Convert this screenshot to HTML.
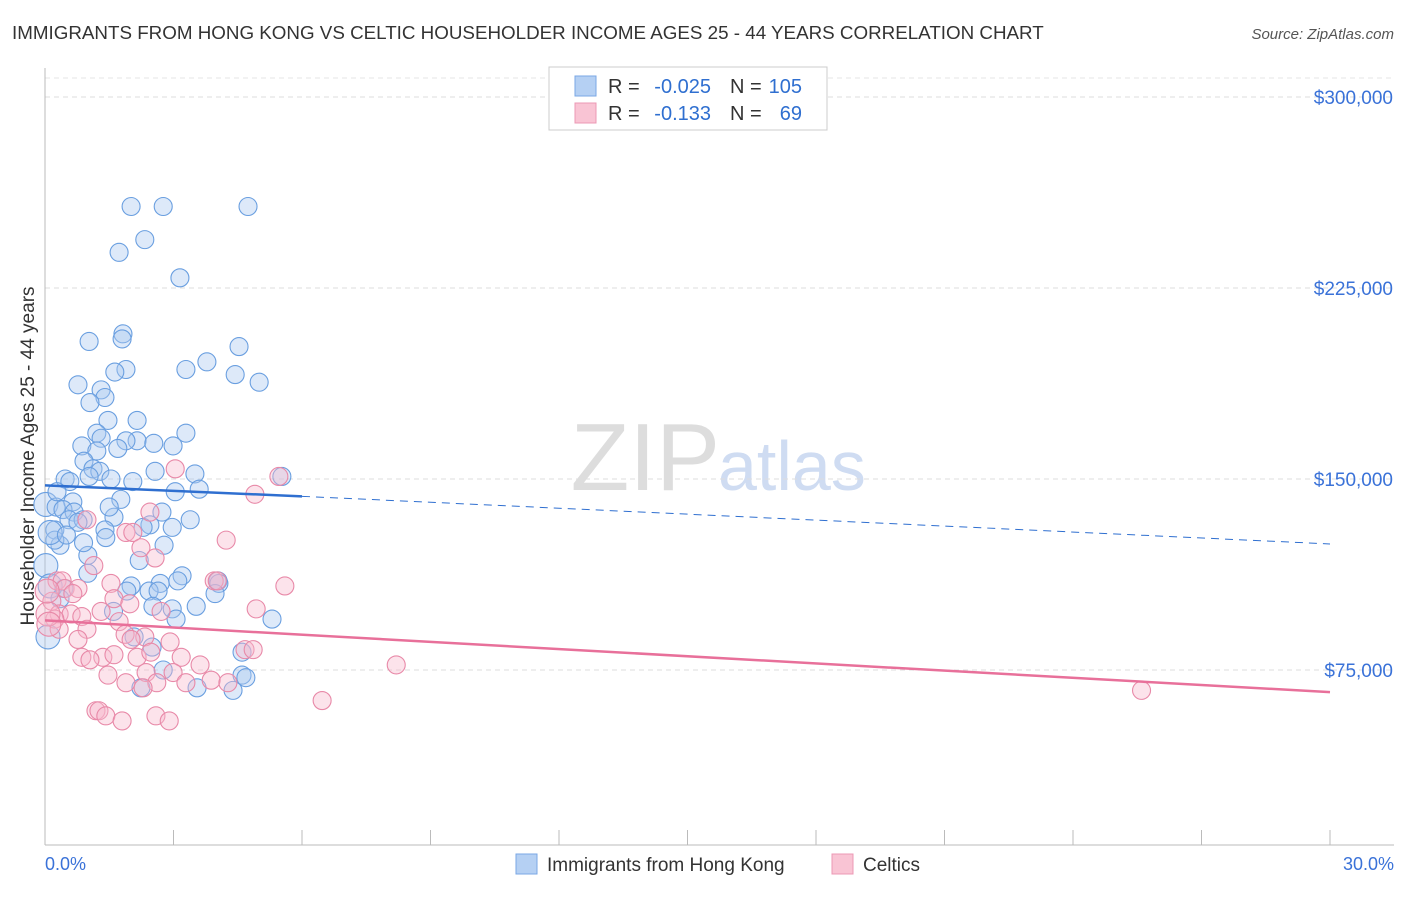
<!DOCTYPE html>
<html><head><meta charset="utf-8"><style>
body{margin:0;background:#fff;font-family:"Liberation Sans",sans-serif;}
svg text{font-family:"Liberation Sans",sans-serif;}
</style></head><body>
<svg id="chart" width="1406" height="892" viewBox="0 0 1406 892" xmlns="http://www.w3.org/2000/svg">
<text x="12" y="39" font-size="18.8" fill="#333">IMMIGRANTS FROM HONG KONG VS CELTIC HOUSEHOLDER INCOME AGES 25 - 44 YEARS CORRELATION CHART</text>
<text x="1394" y="39" font-size="15" fill="#555" font-style="italic" text-anchor="end">Source: ZipAtlas.com</text>
<text x="720" y="490" font-size="96" fill="#ddd" text-anchor="end" font-family="Liberation Serif">ZIP</text>
<text x="718" y="490" font-size="70" fill="#cfdcf2">atlas</text>
<g id="grid"></g>
<line x1="45" y1="845" x2="1394" y2="845" stroke="#bbb"/>
<line x1="45" y1="68" x2="45" y2="845" stroke="#bbb"/>
<g id="ticks"></g>
<text transform="translate(34,456) rotate(-90)" font-size="19" fill="#333" text-anchor="middle">Householder Income Ages 25 - 44 years</text>
<text x="45" y="870" font-size="18" fill="#3a72d8">0.0%</text>
<text x="1394" y="870" font-size="18" fill="#3a72d8" text-anchor="end">30.0%</text>
<g id="points"></g>
<g id="lines"></g>
<g>
<rect x="549" y="67" width="278" height="63" fill="#fff" stroke="#ccc"/>
<rect x="575" y="76" width="21" height="20" fill="#b5d0f3" stroke="#7aa7e4"/>
<rect x="575" y="103" width="21" height="20" fill="#f9c4d4" stroke="#ec98b4"/>
<text x="608" y="93" font-size="20" fill="#333">R =</text>
<text x="711" y="93" font-size="20" fill="#2f6fd0" text-anchor="end">-0.025</text>
<text x="730" y="93" font-size="20" fill="#333">N =</text>
<text x="802" y="93" font-size="20" fill="#2f6fd0" text-anchor="end">105</text>
<text x="608" y="120" font-size="20" fill="#333">R =</text>
<text x="711" y="120" font-size="20" fill="#2f6fd0" text-anchor="end">-0.133</text>
<text x="730" y="120" font-size="20" fill="#333">N =</text>
<text x="802" y="120" font-size="20" fill="#2f6fd0" text-anchor="end">69</text>
</g>
<g>
<rect x="516" y="854" width="21" height="20" fill="#b5d0f3" stroke="#7aa7e4"/>
<text x="547" y="871" font-size="19" fill="#333">Immigrants from Hong Kong</text>
<rect x="832" y="854" width="21" height="20" fill="#f9c4d4" stroke="#ec98b4"/>
<text x="863" y="871" font-size="19" fill="#333">Celtics</text>
</g>
</svg>
<script>
const blueX=[2.01,2.76,4.74,2.33,1.73,3.15,1.82,1.80,1.03,4.53,3.78,1.89,1.63,3.29,4.44,5.0,0.77,1.31,1.40,1.05,1.47,2.15,1.21,1.31,3.29,2.15,1.89,2.54,2.99,0.86,1.70,1.21,0.91,1.12,1.28,2.57,3.50,5.53,0.47,0.58,1.03,1.54,2.05,3.04,3.60,1.77,0.02,0.26,0.65,0.42,0.68,1.61,2.73,2.45,2.29,2.97,3.39,0.56,0.89,0.77,0.23,1.40,0.35,0.23,1.42,2.78,3.20,1.00,2.01,2.69,4.04,4.06,0.44,3.97,1.91,2.43,2.64,2.97,3.53,2.52,3.06,2.08,2.50,4.60,4.60,2.76,3.55,2.24,4.39,4.69,5.30,0.07,0.02,0.12,0.35,0.12,0.28,0.5,1.0,1.6,2.2,3.1,0.9,1.5];
const blueY=[257,257,257,244,239,229,207,205,204,202,196,193,192,193,191,188,187,185,182,180,173,173,168,166,168,165,165,164,163,163,162,161,157,154,153,153,152,151,150,149,151,150,149,145,146,142,140,139,141,138,137,135,137,132,131,131,134,134,134,133,130,130,124,126,127,124,112,113,108,109,110,109,107,105,106,106,106,99,100,100,95,88,84,82,73,75,68,68,67,72,95,88,116,108,103,129,145,128,120,98,118,110,125,139];
const pinkX=[3.04,5.46,4.90,2.45,0.98,1.89,2.05,4.23,2.24,2.57,1.14,0.28,0.40,3.95,4.02,5.60,1.54,0.47,0.77,0.65,1.61,0.16,1.98,4.93,1.31,2.71,0.33,0.61,0.86,0.23,1.73,0.98,1.87,2.33,2.92,0.77,2.01,0.33,1.35,1.61,0.86,1.05,2.15,2.47,3.18,3.62,4.67,4.86,8.20,1.47,2.36,2.99,1.89,2.61,3.29,3.88,4.27,2.29,1.19,1.26,1.42,1.80,2.59,2.90,6.47,25.6,0.07,0.09,0.05];
const pinkY=[154,151,144,137,134,129,129,126,123,119,116,110,110,110,110,108,109,107,107,105,103,102,101,99,98,98,97,97,96,95,94,91,89,88,86,87,87,91,80,81,80,79,80,82,80,77,83,83,77,73,74,74,70,70,70,71,70,68,59,59,57,55,57,55,63,67,97,93,106];
const yTicks=[75,150,225,300];
const X0=45,X1=1330,Y0=861,YPX=191/75;
const sx=v=>X0+v/30*(X1-X0), sy=v=>Y0-v*YPX;
const NS="http://www.w3.org/2000/svg";
function mk(t,a,p){const e=document.createElementNS(NS,t);for(const k in a)e.setAttribute(k,a[k]);document.getElementById(p).appendChild(e);return e;}
yTicks.forEach(v=>{
 const l=mk('line',{x1:45,x2:1394,y1:sy(v),y2:sy(v),stroke:'#ddd','stroke-dasharray':'5,4'},'grid');
 
 
 const t=mk('text',{x:1393,y:sy(v)+7,'font-size':19,fill:'#3a72d8','text-anchor':'end'},'grid');
 
 
 t.textContent='$'+(v*1000).toLocaleString('en-US');
});
const tl=mk('line',{x1:45,x2:1394,y1:78,y2:78,stroke:'#e4e4e4','stroke-dasharray':'5,4'},'grid');


for(let i=0;i<=10;i++){
 const l=mk('line',{x1:sx(i*3),x2:sx(i*3),y1:830,y2:845,stroke:'#bbb'},'ticks');
 
 
}
function pts(xs,ys,fill,stroke,name){
 const n=Math.min(xs.length,ys.length);
 for(let i=0;i<n;i++){
  const x=xs[i];
  const r=x<0.15?12:9;
  const c=mk('circle',{cx:sx(x),cy:sy(ys[i]),r:r,fill:fill,'fill-opacity':0.4,stroke:stroke,'stroke-width':1.1},'points');
  
  
 }
}
pts(blueX,blueY,'#a9c8f0','#6a9fe0','blue-point');
pts(pinkX,pinkY,'#f7b8cc','#e889a8','pink-point');
const b1=mk('line',{x1:sx(0),y1:sy(147.5),x2:sx(6),y2:sy(143.2),stroke:'#2f6fd0','stroke-width':2.5},'lines');


const b2=mk('line',{x1:sx(6),y1:sy(143.2),x2:sx(30),y2:sy(124.5),stroke:'#2f6fd0','stroke-width':1,'stroke-dasharray':'8,6'},'lines');


const p1=mk('line',{x1:sx(0),y1:sy(94.5),x2:sx(30),y2:sy(66.3),stroke:'#e8709a','stroke-width':2.5},'lines');


</script>
</body></html>
